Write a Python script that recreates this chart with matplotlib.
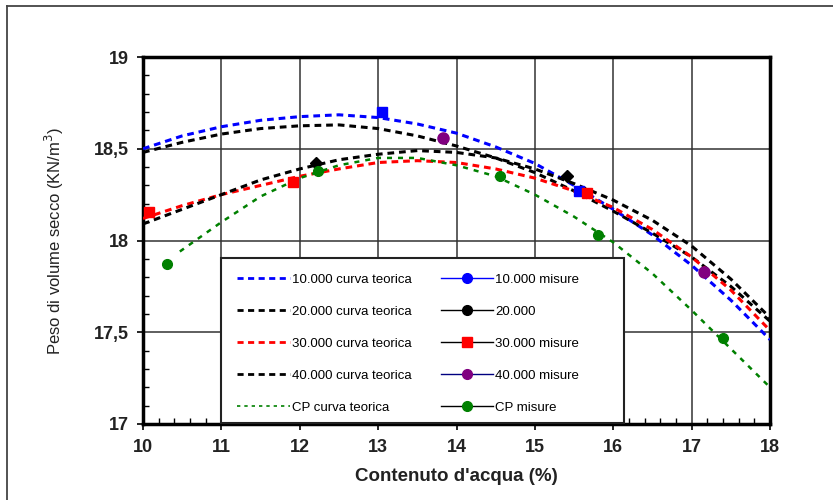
import matplotlib
matplotlib.use("Agg")
import matplotlib.pyplot as plt
from matplotlib.lines import Line2D
from matplotlib.patches import Rectangle
from matplotlib.ticker import MultipleLocator

plt.rcParams['font.family'] = ['Liberation Sans', 'DejaVu Sans']

# ---- data ----
x_teor = [10, 10.5, 11, 11.5, 12, 12.5, 13, 13.5, 14, 14.5, 15, 15.5, 16, 16.5, 17, 17.5, 18]
y_10k_teor = [18.50, 18.57, 18.62, 18.655, 18.675, 18.685, 18.67, 18.635, 18.585, 18.51, 18.42,
              18.30, 18.17, 18.03, 17.865, 17.675, 17.46]
y_20k_teor = [18.48, 18.535, 18.58, 18.61, 18.625, 18.63, 18.61, 18.57, 18.515, 18.45, 18.37,
              18.27, 18.16, 18.04, 17.91, 17.75, 17.56]
y_30k_teor = [18.12, 18.19, 18.25, 18.30, 18.35, 18.39, 18.425, 18.435, 18.425, 18.39, 18.34,
              18.27, 18.18, 18.06, 17.91, 17.73, 17.51]
y_40k_teor = [18.09, 18.17, 18.25, 18.33, 18.39, 18.44, 18.47, 18.49, 18.48, 18.45, 18.39,
              18.31, 18.22, 18.11, 17.97, 17.79, 17.58]
x_cp_teor = [10.47, 11, 11.5, 12, 12.5, 13, 13.5, 14, 14.5, 15, 15.5, 16, 16.5, 17, 17.5, 18]
y_cp_teor = [17.94, 18.10, 18.24, 18.34, 18.41, 18.45, 18.45, 18.41, 18.35, 18.25, 18.13,
             17.99, 17.82, 17.62, 17.41, 17.20]

x_10k_mis = [13.05, 15.56]
y_10k_mis = [18.70, 18.27]
x_20k_mis = [12.21, 15.41]
y_20k_mis = [18.42, 18.35]
x_30k_mis = [10.08, 11.91, 15.66]
y_30k_mis = [18.155, 18.32, 18.26]
x_40k_mis = [13.83, 17.16]
y_40k_mis = [18.56, 17.83]
x_cp_mis = [10.31, 12.23, 14.55, 15.80, 17.40]
y_cp_mis = [17.87, 18.38, 18.35, 18.03, 17.47]

xticks = [10, 11, 12, 13, 14, 15, 16, 17, 18]
yticks = [17, 17.5, 18, 18.5, 19]
yticklabels = ['17', '17,5', '18', '18,5', '19']

labels_teor = ['10.000 curva teorica', '20.000 curva teorica', '30.000 curva teorica',
               '40.000 curva teorica', 'CP curva teorica']
labels_mis = ['10.000 misure', '20.000', '30.000 misure', '40.000 misure', 'CP misure']

# ---- figure ----
fig = plt.figure(figsize=(8.33, 5.0), dpi=100)
ax = fig.add_axes([143/833, 1-424/500, (770-143)/833, (424-57)/500])

# outer frame (left and top edges visible)
fig.add_artist(Line2D([7/833, 7/833], [0, 1-6/500], transform=fig.transFigure,
                      color='#444444', lw=1.3))
fig.add_artist(Line2D([7/833, 1], [1-6/500, 1-6/500], transform=fig.transFigure,
                      color='#444444', lw=1.3))

ax.set_xlim(10, 18)
ax.set_ylim(17, 19)
ax.set_xticks(xticks)
ax.set_yticks(yticks)
ax.set_yticklabels(yticklabels)
ax.xaxis.set_minor_locator(MultipleLocator(0.2))
ax.yaxis.set_minor_locator(MultipleLocator(0.1))
ax.tick_params(which='major', direction='out', length=4.5, width=1.2, labelsize=13, pad=6)
ax.tick_params(which='minor', direction='in', length=4, width=1.0)
for lab in ax.get_xticklabels() + ax.get_yticklabels():
    lab.set_fontweight('bold')
    lab.set_color('#222222')
ax.grid(True, which='major', color='#333333', lw=1.1, zorder=0)
for s in ax.spines.values():
    s.set_linewidth(2.5)
    s.set_color('black')
ax.set_axisbelow(True)

dash = (0, (2.2, 1.6))
ax.plot(x_teor, y_10k_teor, color='#0000ff', lw=2.2, ls=dash, zorder=3)
ax.plot(x_teor, y_20k_teor, color='black', lw=2.2, ls=dash, zorder=3)
ax.plot(x_teor, y_30k_teor, color='#ff0000', lw=2.2, ls=dash, zorder=3)
ax.plot(x_teor, y_40k_teor, color='black', lw=2.2, ls=dash, zorder=3)
ax.plot(x_cp_teor, y_cp_teor, color='#008000', lw=1.8, ls=(0, (2.0, 2.4)), zorder=3)

ms = 7
ax.plot(x_10k_mis, y_10k_mis, ls='none', marker='s', ms=ms, color='#0000ff', zorder=4)
ax.plot(x_20k_mis, y_20k_mis, ls='none', marker='D', ms=ms-1, color='black', zorder=4)
ax.plot(x_30k_mis, y_30k_mis, ls='none', marker='s', ms=ms, color='#ff0000', zorder=4)
ax.plot(x_40k_mis, y_40k_mis, ls='none', marker='o', ms=ms+1, color='#800080', zorder=4)
ax.plot(x_cp_mis, y_cp_mis, ls='none', marker='o', ms=ms, color='#008000', zorder=4)

ax.set_xlabel("Contenuto d'acqua (%)", fontsize=13.5, fontweight='bold', color='#222222', labelpad=9)
ax.set_ylabel("Peso di volume secco (KN/m$^3$)", fontsize=12, color='#222222', labelpad=20)

# legend frame
ax.add_patch(Rectangle((0.125, 0.004), 0.642, 0.447, transform=ax.transAxes,
                       facecolor='white', edgecolor='#222222', lw=1.5, zorder=5))

h_teor = [
    Line2D([], [], color='#0000ff', lw=2.0, ls=dash),
    Line2D([], [], color='black', lw=2.0, ls=dash),
    Line2D([], [], color='#ff0000', lw=2.0, ls=dash),
    Line2D([], [], color='black', lw=2.0, ls=dash),
    Line2D([], [], color='#008000', lw=1.2, ls=(0, (2.0, 2.4))),
]
h_mis = [
    Line2D([], [], color='#0000ff', lw=1, marker='o', ms=7, mfc='#0000ff', mec='#0000ff'),
    Line2D([], [], color='black', lw=1, marker='o', ms=7, mfc='black', mec='black'),
    Line2D([], [], color='black', lw=1, marker='s', ms=7, mfc='#ff0000', mec='#ff0000'),
    Line2D([], [], color='#000080', lw=1, marker='o', ms=7, mfc='#800080', mec='#800080'),
    Line2D([], [], color='black', lw=1, marker='o', ms=7, mfc='#008000', mec='#008000'),
]
leg = ax.legend(h_teor + h_mis, labels_teor + labels_mis, ncol=2,
                bbox_to_anchor=(0.150, 0.410), loc='upper left', frameon=False,
                borderaxespad=0, borderpad=0, fontsize=9.5, handlelength=4.0,
                handletextpad=0.15, labelspacing=1.5, columnspacing=2.2)
leg.set_zorder(6)

fig.savefig('out.png', dpi=100)
